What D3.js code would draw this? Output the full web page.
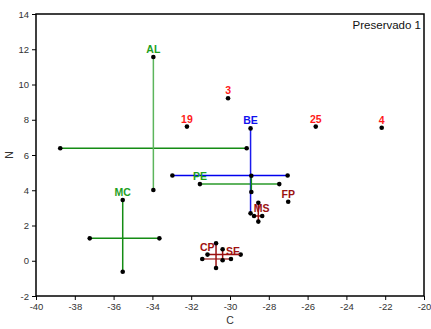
<!DOCTYPE html>
<html>
<head>
<meta charset="utf-8">
<script src="https://cdn.jsdelivr.net/npm/d3@7"></script>
<style>
  body { margin: 0; background: #fff; }
  svg { font-family: "Liberation Sans", Arial, sans-serif; }
  .tick text { font-size: 9.5px; fill: #333; }
  .lbl { font-size: 10.5px; font-weight: bold; text-anchor: middle; }
</style>
</head>
<body>
<svg id="chart" width="431" height="329"></svg>
<script>
// single points (labelled samples)
var ptNames  = ["3", "19", "25", "4", "FP"];
var ptX      = [-30.1, -32.22, -25.58, -22.18, -27.0];
var ptY      = [9.22, 7.61, 7.61, 7.55, 3.35];
var ptColors = ["#ff1a1a", "#ff1a1a", "#ff1a1a", "#ff1a1a", "#9b1111"];

// groups drawn as crosses: horizontal segment + vertical segment
var grpNames = ["AL", "MC", "BE", "PE", "MS", "CP", "SE"];
var hY   = [6.38, 1.27, 4.84, 4.35, 2.54, 0.10, 0.35];
var hX1  = [-38.75, -37.23, -32.97, -31.55, -28.76, -31.43, -31.16];
var hX2  = [-29.14, -33.64, -27.03, -27.46, -28.34, -29.95, -29.45];
var vX   = [-33.95, -35.53, -28.94, -28.90, -28.54, -30.72, -30.38];
var vY1  = [4.01, -0.62, 2.69, 3.90, 2.22, -0.41, 0.03];
var vY2  = [11.56, 3.45, 7.51, 4.82, 3.29, 0.99, 0.65];
var labX = [-33.95, -35.53, -28.94, -31.55, -28.37, -31.17, -29.85];
var labY = [11.56, 3.45, 7.51, 4.35, 2.54, 0.35, 0.10];
var hColors   = ["#148c14", "#148c14", "#0000ee", "#2a9a2a", "#9b1111", "#b04848", "#9b1111"];
var vColors   = ["#5cb55c", "#148c14", "#1a1aee", "#148c14", "#9b1111", "#9b1111", "#9b1111"];
var labColors = ["#1ea01e", "#1ea01e", "#1111ee", "#1ea01e", "#9b1111", "#a01010", "#a01010"];

var xTicks = [-40, -38, -36, -34, -32, -30, -28, -26, -24, -22, -20];
var yTicks = [-2, 0, 2, 4, 6, 8, 10, 12, 14];

var margin = {left: 36, top: 14}, width = 388, height = 282;

var svg = d3.select("#chart");
var chart = svg.append("g").attr("transform", `translate(${margin.left},${margin.top})`);

var x = d3.scaleLinear().domain([-40, -20]).range([0, width]);
var y = d3.scaleLinear().domain([-2, 14]).range([height, 0]);

//axes with outward ticks, plain hyphen minus
chart.append("g")
  .attr("transform", `translate(0,${height})`)
  .call(d3.axisBottom(x).tickValues(xTicks).tickSize(4).tickPadding(3).tickFormat(d => String(d)))
  .call(g => g.select(".domain").remove());
chart.append("g")
  .call(d3.axisLeft(y).tickValues(yTicks).tickSize(4).tickPadding(3).tickFormat(d => String(d)))
  .call(g => g.select(".domain").remove());

//frame
chart.append("rect")
  .attr("width", width).attr("height", height)
  .attr("fill", "none").attr("stroke", "#000").attr("stroke-width", 1.5);

var groups = grpNames.map((n, i) => ({name: n, i: i}));

// horizontal segments
chart.append("g").selectAll("line.h").data(groups).enter().append("line")
  .attr("x1", d => x(hX1[d.i])).attr("x2", d => x(hX2[d.i]))
  .attr("y1", d => y(hY[d.i])).attr("y2", d => y(hY[d.i]))
  .attr("stroke", d => hColors[d.i]).attr("stroke-width", 1.5);

// vertical segments
chart.append("g").selectAll("line.v").data(groups).enter().append("line")
  .attr("x1", d => x(vX[d.i])).attr("x2", d => x(vX[d.i]))
  .attr("y1", d => y(vY1[d.i])).attr("y2", d => y(vY2[d.i]))
  .attr("stroke", d => vColors[d.i]).attr("stroke-width", 1.5);

// end dots
var ends = [];
groups.forEach(d => {
  ends.push([hX1[d.i], hY[d.i]], [hX2[d.i], hY[d.i]], [vX[d.i], vY1[d.i]], [vX[d.i], vY2[d.i]]);
});
ptNames.forEach((n, i) => ends.push([ptX[i], ptY[i]]));

chart.append("g").selectAll("circle").data(ends).enter().append("circle")
  .attr("cx", d => x(d[0])).attr("cy", d => y(d[1]))
  .attr("r", 2.3).attr("fill", "#000");

// labels
chart.append("g").selectAll("text").data(groups).enter().append("text")
  .attr("class", "lbl")
  .attr("x", d => x(labX[d.i])).attr("y", d => y(labY[d.i]) - 4)
  .attr("fill", d => labColors[d.i])
  .text(d => d.name);

chart.append("g").selectAll("text").data(ptNames).enter().append("text")
  .attr("class", "lbl")
  .attr("x", (d, i) => x(ptX[i])).attr("y", (d, i) => y(ptY[i]) - 4)
  .attr("fill", (d, i) => ptColors[i])
  .text(d => d);

// legend text
chart.append("text")
  .attr("x", width - 3).attr("y", 15)
  .attr("text-anchor", "end").attr("font-size", 11.5).attr("fill", "#111")
  .text("Preservado 1");

// axis titles
svg.append("text")
  .attr("x", margin.left + width / 2).attr("y", 324)
  .attr("text-anchor", "middle").attr("font-size", 10.5).attr("fill", "#333")
  .text("C");
svg.append("text")
  .attr("transform", `translate(13,${margin.top + height / 2}) rotate(-90)`)
  .attr("text-anchor", "middle").attr("font-size", 10.5).attr("fill", "#333")
  .text("N");
</script>
</body>
</html>
